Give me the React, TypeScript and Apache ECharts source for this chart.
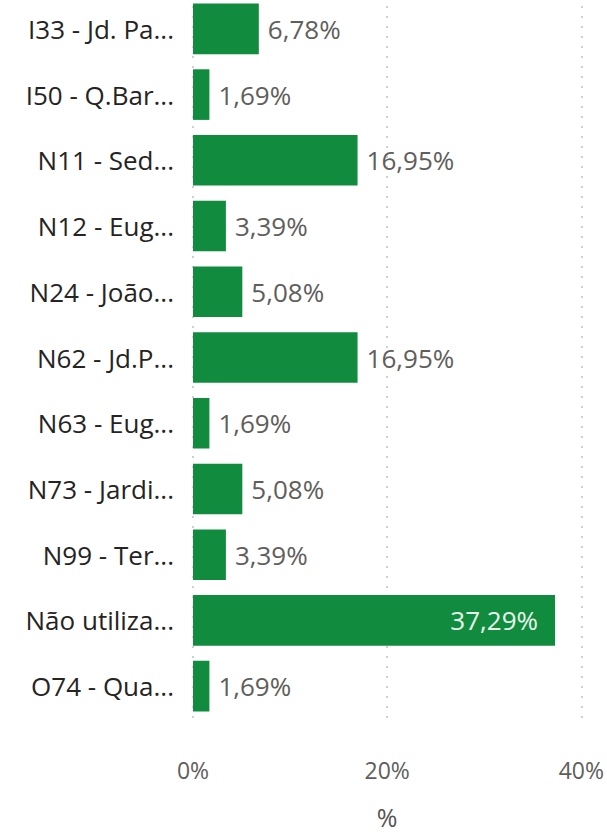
import React, { useEffect, useRef } from "react";
import * as echarts from "echarts";

const categories = [
  "I33 - Jd. Pa...",
  "I50 - Q.Bar...",
  "N11 - Sed...",
  "N12 - Eug...",
  "N24 - João...",
  "N62 - Jd.P...",
  "N63 - Eug...",
  "N73 - Jardi...",
  "N99 - Ter...",
  "Não utiliza...",
  "O74 - Qua...",
];
const values = [6.78, 1.69, 16.95, 3.39, 5.08, 16.95, 1.69, 5.08, 3.39, 37.29, 1.69];
const xTicks = [0, 20, 40];

const FONT = "'Open Sans', 'Noto Sans', sans-serif";
const GREEN = "#118c3f";

export default function App() {
  const ref = useRef<HTMLDivElement>(null);
  useEffect(() => {
    if (!ref.current) return;
    const chart = echarts.init(ref.current, undefined, { renderer: "svg" });
    const fmt = (v: number) => v.toFixed(2).replace(".", ",") + "%";
    chart.setOption({
      animation: false,
      grid: { left: 193, right: 24, top: 0, bottom: 111, containLabel: false },
      xAxis: {
        type: "value",
        min: xTicks[0],
        max: xTicks[xTicks.length - 1],
        interval: 20,
        name: "%",
        nameLocation: "middle",
        nameGap: 85,
        nameTextStyle: { fontFamily: FONT, fontSize: 25, color: "#555" },
        axisLine: { show: false },
        axisTick: { show: false },
        axisLabel: {
          fontFamily: FONT,
          fontSize: 23,
          color: "#605e5c",
          margin: 39,
          formatter: (v: number) => v + "%",
        },
        splitLine: { show: true, lineStyle: { type: [2, 8], color: "#cfcfcf", width: 2 } },
      },
      yAxis: {
        type: "category",
        data: categories,
        inverse: true,
        axisLine: { show: false },
        axisTick: { show: false },
        axisLabel: { fontFamily: FONT, fontSize: 26, color: "#252423", margin: 19 },
      },
      series: [
        {
          type: "bar",
          data: values.map((v) => ({
            value: v,
            label:
              v > 30
                ? { position: "insideRight", color: "#e8f5ec", distance: 17 }
                : undefined,
          })),
          barWidth: "77%",
          itemStyle: { color: GREEN },
          label: {
            show: true,
            position: "right",
            distance: 9,
            fontFamily: FONT,
            fontSize: 26,
            color: "#605e5c",
            formatter: (p: any) => fmt(p.value),
          },
        },
      ],
    });
    return () => chart.dispose();
  }, []);
  return (
    <div
      ref={ref}
      style={{ position: "absolute", left: 0, top: -4, width: 607, height: 838, background: "#fff" }}
    />
  );
}
